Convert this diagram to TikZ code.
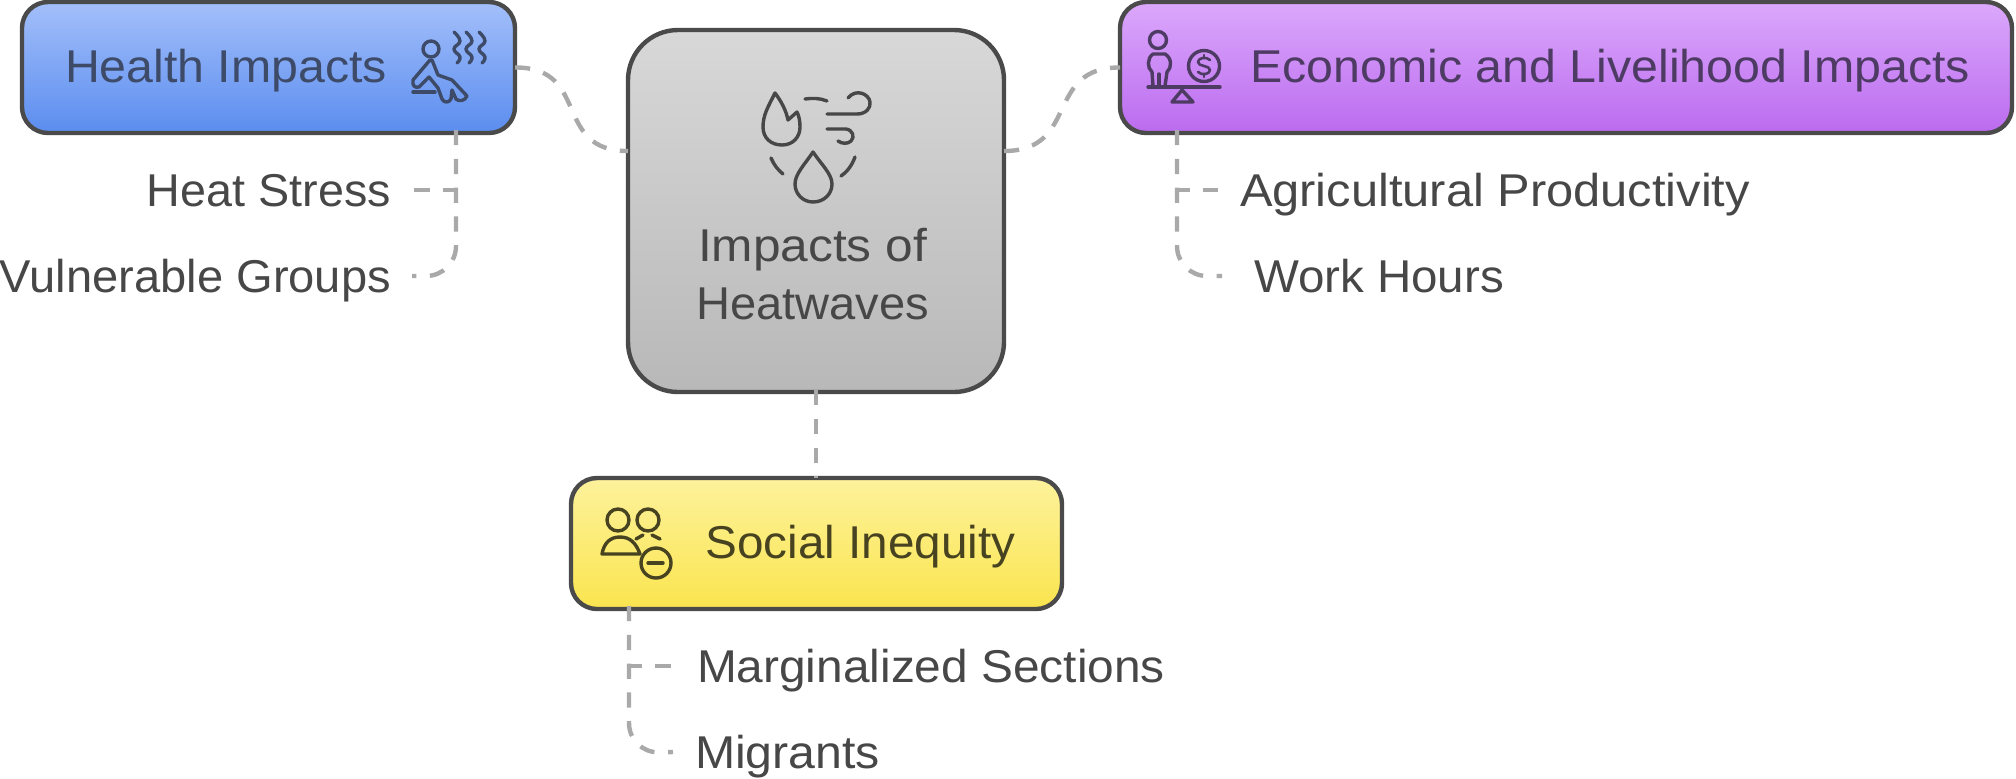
\documentclass[tikz,border=0pt]{standalone}
\usepackage{graphicx}
\usepackage{fontspec}
\setmainfont{Liberation Sans}
\definecolor{healthink}{HTML}{3D4A68}
\definecolor{econink}{HTML}{4D3B63}
\definecolor{socialink}{HTML}{474320}
\definecolor{plainink}{HTML}{474747}
\definecolor{edgegray}{HTML}{4A4A4A}
\definecolor{linkgray}{HTML}{A9A9A9}
\definecolor{healthtop}{HTML}{A3BFFA}
\definecolor{healthbot}{HTML}{5B8DEF}
\definecolor{centertop}{HTML}{D8D8D8}
\definecolor{centerbot}{HTML}{B8B8B8}
\definecolor{econtop}{HTML}{DBA8FB}
\definecolor{econbot}{HTML}{BB6BEF}
\definecolor{socialtop}{HTML}{FDF29C}
\definecolor{socialbot}{HTML}{FAE54E}
\newcommand{\fitw}[2]{\resizebox{#1pt}{\height}{#2}}
\newcommand{\wavy}[1]{\draw[iconline,healthink] plot[smooth,tension=0.8] coordinates {(#1-3,32) (#1+3,41) (#1-3,49) (#1+3,57) (#1,63)};}
\tikzset{
  x=0.5pt,y=-0.5pt,
  panel/.style={draw=edgegray,line width=2.2pt,rectangle,outer sep=0pt,inner sep=0pt},
  small panel/.style={panel,rounded corners=13pt},
  big panel/.style={panel,rounded corners=25pt},
  label text/.style={inner sep=0pt,outer sep=0pt,text height=16.5pt,text depth=0pt,font=\fontsize{23}{29}\selectfont},
  link/.style={draw=linkgray,line width=2.2pt,dash pattern=on 7.6pt off 6.8pt},
  iconline/.style={line width=1.7pt,line cap=round,line join=round},
}
\begin{document}
\begin{tikzpicture}
\useasboundingbox (0,0) rectangle (2016,778);
% panels
\node[small panel,top color=healthtop,bottom color=healthbot,minimum width=246.5pt,minimum height=65.5pt] (health) at (268.5,67.5) {};
\node[big panel,top color=centertop,bottom color=centerbot,minimum width=188pt,minimum height=181pt] (center) at (816,211) {};
\node[small panel,top color=econtop,bottom color=econbot,minimum width=446pt,minimum height=65.5pt] (econ) at (1566,67.5) {};
\node[small panel,top color=socialtop,bottom color=socialbot,minimum width=245.5pt,minimum height=65.5pt] (social) at (816.5,543.5) {};
% panel titles
\node[label text,text=healthink,anchor=west] (healthtitle) at (65,66) {\fitw{161}{Health Impacts}};
\node[label text,text=econink,anchor=west] (econtitle) at (1250,66) {\fitw{360}{Economic and Livelihood Impacts}};
\node[label text,text=socialink,anchor=west] (socialtitle) at (705.5,542) {\fitw{155}{Social Inequity}};
\node[inner sep=0pt,outer sep=0pt,text=plainink,align=center,font=\fontsize{23}{29}\selectfont] (centertitle) at (812.5,274) {\fitw{114.5}{Impacts of}\\\fitw{116.5}{Heatwaves}};
% leaf labels
\node[label text,text=plainink,anchor=east] (heat) at (391,190) {\fitw{122}{Heat Stress}};
\node[label text,text=plainink,anchor=east] (vulnerable) at (391,276) {\fitw{195.5}{Vulnerable Groups}};
\node[label text,text=plainink,anchor=west] (agri) at (1240,190) {\fitw{255}{Agricultural Productivity}};
\node[label text,text=plainink,anchor=west] (work) at (1254,276) {\fitw{125}{Work Hours}};
\node[label text,text=plainink,anchor=west] (marginal) at (697,666) {\fitw{234}{Marginalized Sections}};
\node[label text,text=plainink,anchor=west] (migrants) at (695,752) {\fitw{92.5}{Migrants}};
% connector attachment points
\coordinate (cW) at (center.west |- 0,151);
\coordinate (cE) at (center.east |- 0,151);
\coordinate (cS) at (816,390);
\coordinate (sN) at (816,478);
\coordinate (hS) at (456,130);
\coordinate (hB) at (456,190);
\coordinate (hR) at (456,276);
\coordinate (eS) at (1177,130);
\coordinate (eB) at (1177,190);
\coordinate (eR) at (1177,276);
\coordinate (oS) at (629,606);
\coordinate (oB) at (629,666);
\coordinate (oR) at (629,753);
% connectors
\draw[link] (health.east) .. controls (591,67) and (552,151) .. (cW);
\draw[link] (cE) .. controls (1080,151) and (1044,67) .. (econ.west);
\draw[link] (cS) -- (sN);
\draw[link] (hS) -- (hB) -- ([xshift=11pt]heat.east);
\draw[link,rounded corners=15pt] (hS) -- (hR) -- ([xshift=10.5pt]vulnerable.east);
\draw[link] (eS) -- (eB) -- ([xshift=-11pt]agri.west);
\draw[link,rounded corners=15pt] (eS) -- (eR) -- ([xshift=-16pt]work.west);
\draw[link] (oS) -- (oB) -- ([xshift=-13pt]marginal.west);
\draw[link,rounded corners=15pt] (oS) -- (oR) -- ([xshift=-11pt]migrants.west);
% health icon
\draw[iconline,healthink] (431,49) circle (8);
\draw[iconline,healthink] (430,60) -- (413,80) .. controls (412,86) and (415,88) .. (419,87) -- (429,77) -- (438,88) -- (442,99) .. controls (444,103) and (449,103) .. (451,99) -- (452,90) -- (456,99) .. controls (459,102) and (465,101) .. (467,96) -- (452,80) -- (438,75) -- (432,60);
\draw[iconline,healthink] (413,92) -- (435,92);
\wavy{457}\wavy{469}\wavy{482}
% heatwave icon
\draw[iconline,plainink] (775,93) .. controls (768,107) and (763,115) .. (763,127) .. controls (763,138) and (771,145) .. (782,145) .. controls (793,145) and (800,137) .. (800,127) .. controls (800,121) and (799,116) .. (797,112) -- (788,120) .. controls (786,110) and (781,101) .. (775,93) -- cycle;
\draw[iconline,plainink] (805,99) .. controls (812,98) and (820,98) .. (827,101);
\draw[iconline,plainink] (827,114) -- (857,114) .. controls (866,114) and (871,108) .. (870,102) .. controls (869,94) and (856,88) .. (848,98);
\draw[iconline,plainink] (827,129) -- (846,129) .. controls (853,130) and (855,137) .. (851,141) .. controls (848,144) and (842,144) .. (838,141);
\draw[iconline,plainink] (813,152) .. controls (805,164) and (795,174) .. (795,184) .. controls (795,194) and (803,202) .. (813,202) .. controls (824,202) and (832,194) .. (832,184) .. controls (832,174) and (821,164) .. (813,152) -- cycle;
\draw[iconline,plainink] (771,158) .. controls (774,165) and (778,170) .. (783,174);
\draw[iconline,plainink] (855,157) .. controls (852,165) and (848,171) .. (841,176);
% economic icon
\draw[iconline,econink] (1158,40) circle (8.5);
\draw[iconline,econink] (1153,86) -- (1152,72) .. controls (1147,68) and (1147,58) .. (1153,54) -- (1165,54) .. controls (1172,58) and (1172,68) .. (1167,72) -- (1165,86);
\draw[iconline,econink] (1159,74) -- (1159,86);
\draw[iconline,econink] (1148,87) -- (1220,87);
\draw[iconline,econink] (1204,66) circle (15.5);
\draw[iconline,econink,line width=1.3pt] (1210,60) .. controls (1206,56) and (1198,58) .. (1198,62) .. controls (1198,67) and (1210,65) .. (1210,70) .. controls (1210,74) and (1202,76) .. (1198,72);
\draw[iconline,econink,line width=1.3pt] (1204,55) -- (1204,58) (1204,74) -- (1204,77);
\draw[iconline,econink] (1182,90) -- (1172,102) -- (1193,102) -- cycle;
% social icon
\draw[iconline,socialink] (618,520) circle (11);
\draw[iconline,socialink] (648,520) circle (11);
\draw[iconline,socialink] (602,554) .. controls (604,543) and (610,537) .. (620,537) .. controls (630,537) and (636,543) .. (640,554) -- cycle;
\draw[iconline,socialink] (636,539) -- (643,535);
\draw[iconline,socialink] (652,535) -- (660,539);
\draw[iconline,socialink] (656,563) circle (15);
\draw[iconline,socialink] (648,563) -- (663,563);
\end{tikzpicture}
\end{document}
